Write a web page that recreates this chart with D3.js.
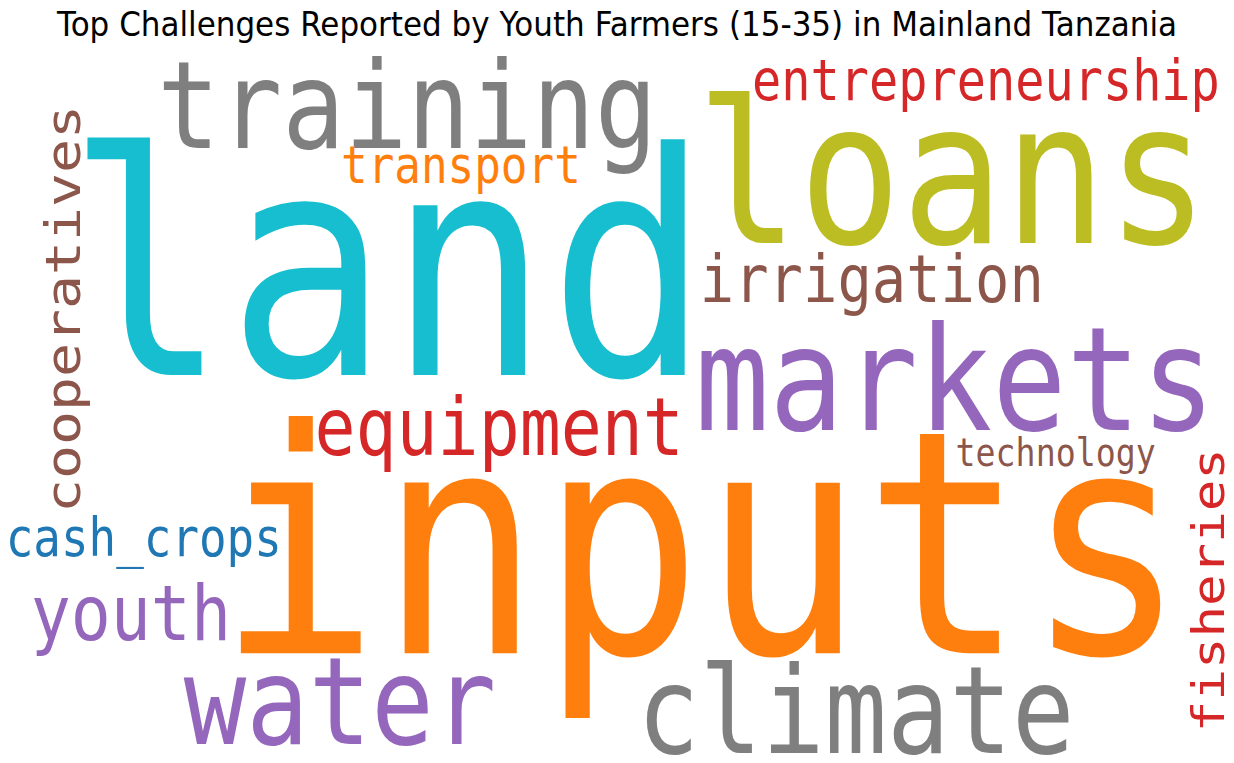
<!DOCTYPE html>
<html>
<head>
<meta charset="utf-8">
<script src="https://cdn.jsdelivr.net/npm/d3@7/dist/d3.min.js"></script>
<style>
  html, body { margin: 0; padding: 0; background: #ffffff; }
  svg { display: block; }
</style>
</head>
<body>
<div id="chart"></div>
<script>
// ---- data ----
const title = "Top Challenges Reported by Youth Farmers (15-35) in Mainland Tanzania";
const words = ["inputs", "land", "loans", "training", "markets", "water", "climate",
  "equipment", "youth", "irrigation", "entrepreneurship", "cooperatives",
  "cash_crops", "fisheries", "transport", "technology"];
const weights = [100, 99.5, 63.5, 38.7, 46, 38.7, 38.7,
  25.4, 24.8, 21.3, 18.1, 18.1,
  17.1, 16.8, 16.5, 12.4];

// ---- style / layout (not data) ----
const colors = ["#ff7f0e", "#17becf", "#bcbd22", "#7f7f7f", "#9467bd", "#9467bd", "#7f7f7f",
  "#d62728", "#9467bd", "#8c564b", "#d62728", "#8c564b",
  "#1f77b4", "#d62728", "#ff7f0e", "#8c564b"];
// normalized anchor (ink centre along the text, baseline) and orientation
const layoutX = [0.569, 0.3145, 0.772, 0.330, 0.774, 0.2755, 0.6935,
  0.4045, 0.106, 0.7065, 0.799, 0.0650,
  0.1165, 0.992, 0.3735, 0.8555];
const layoutY = [0.8560, 0.4915, 0.3185, 0.194, 0.5635, 0.9745, 0.9875,
  0.5965, 0.839, 0.3955, 0.131, 0.405,
  0.7285, 0.7735, 0.2395, 0.6105];
const rotated = [false, false, false, false, false, false, false,
  false, false, false, false, true,
  false, true, false, false];

const W = 1234, H = 763;
const squeeze = 0.86;      // horizontal compression of the rendered picture
const titleSqueeze = 0.94;
const maxFont = 312;

const svg = d3.select("#chart").append("svg")
  .attr("width", W).attr("height", H);

const xPos = d3.scaleLinear().domain([0, 1]).range([0, W]);
const yPos = d3.scaleLinear().domain([0, 1]).range([0, H]);
const fontScale = d3.scaleLinear().domain([0, d3.max(weights)]).range([0, maxFont]);

const items = words.map((w, i) => ({
  word: w, weight: weights[i], color: colors[i],
  x: layoutX[i], y: layoutY[i], rot: rotated[i]
}));

svg.append("g").selectAll("text")
  .data(items)
  .join("text")
  .attr("transform", d => `translate(${xPos(d.x)},${yPos(d.y)}) scale(${squeeze},1)` + (d.rot ? " rotate(-90)" : ""))
  .attr("text-anchor", "middle")
  .attr("font-family", "'DejaVu Sans Mono', monospace")
  .attr("font-size", d => fontScale(d.weight))
  .attr("fill", d => d.color)
  .text(d => d.word);

svg.append("text")
  .attr("transform", `translate(${W / 2},36) scale(${titleSqueeze},1)`)
  .attr("text-anchor", "middle")
  .attr("font-family", "'DejaVu Sans', sans-serif")
  .attr("font-size", 33)
  .attr("fill", "#000")
  .text(title);
</script>
</body>
</html>
